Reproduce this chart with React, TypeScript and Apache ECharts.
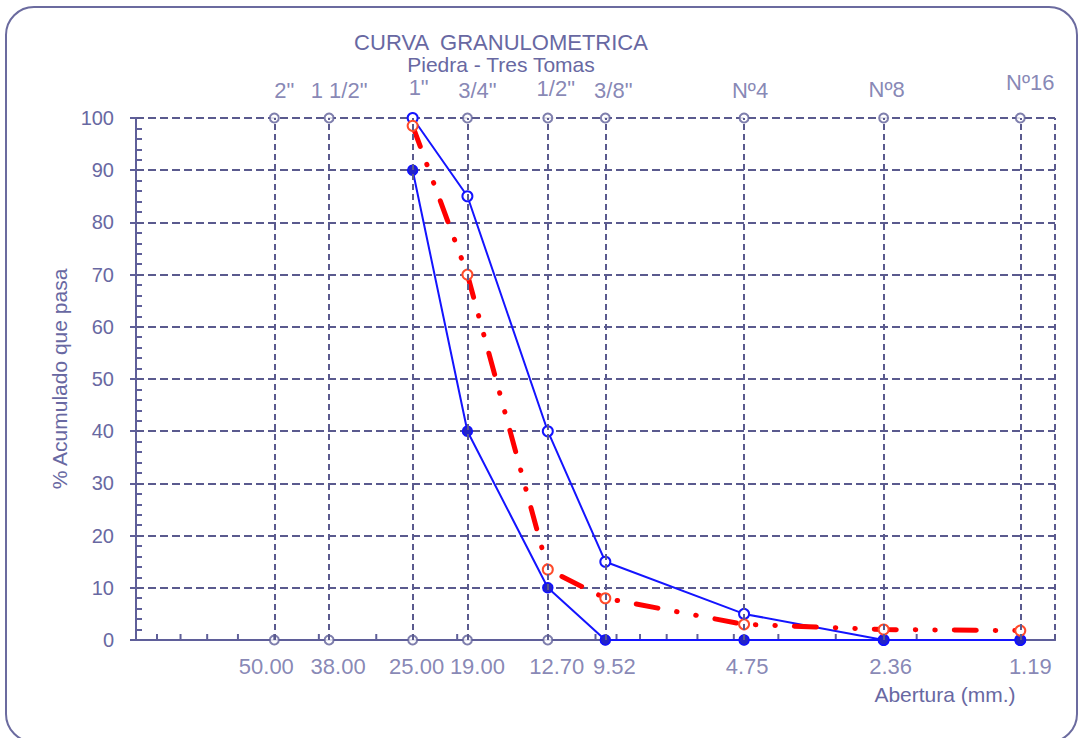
import React, { useEffect, useRef } from "react";
import * as echarts from "echarts";

// ---- data ----
const SIEVE_MM = [50, 38, 25, 19, 12.7, 9.52, 4.75, 2.36, 1.19];
const SIEVE_MM_LABELS = ["50.00", "38.00", "25.00", "19.00", "12.70", "9.52", "4.75", "2.36", "1.19"];
const SIEVE_NAMES = ['2"', '1 1/2"', '1"', '3/4"', '1/2"', '3/8"', "Nº4", "Nº8", "Nº16"];
const CURVE_MM = [25, 19, 12.7, 9.52, 4.75, 2.36, 1.19];
const UPPER_LIMIT = [100, 85, 40, 15, 5, 0, 0];
const LOWER_LIMIT = [90, 40, 10, 0, 0, 0, 0];
const SAMPLE = [98.5, 70, 13.5, 8, 3, 2, 1.8];
const X_MINOR_TICKS = [2, 3, 4, 5, 6, 7, 8, 9, 10, 20, 30, 40, 50, 60, 70, 80, 90];
const X_MIN = 1;
const X_MAX = 100;

// ---- styles ----
const FONT = "'Liberation Sans', Arial, sans-serif";
const AXIS = "#5f5f99";
const TEXT = "#6868a2";
const GRID = "#5a5a8e";
const TOP_LABEL_DX = [10, 10, 6, 10, 8, 8, 6, 3, 10];
const TOP_LABEL_RAISE = [0, 0, 3, 0, 2, 0, 0, 1, 8];
const BOTTOM_LABEL_DX = [-8, 9, 4, 10, 9, 9, 3, 7, 10];

export default function App() {
  const ref = useRef<HTMLDivElement>(null);
  useEffect(() => {
    document.body.style.margin = "0";
    const chart = echarts.init(ref.current!, null, { renderer: "svg" });
    const option: any = {
      animation: false,
      backgroundColor: "#ffffff",
      textStyle: { fontFamily: FONT },
      title: {
        text: "CURVA  GRANULOMETRICA",
        subtext: "Piedra - Tres Tomas",
        left: 496,
        textAlign: "center",
        top: 26,
        itemGap: 2,
        textStyle: { fontSize: 22, fontWeight: "normal", color: TEXT, fontFamily: FONT, lineHeight: 22 },
        subtextStyle: { fontSize: 21, color: TEXT, fontFamily: FONT, lineHeight: 19 },
      },
      grid: { left: 136, right: 23, top: 118, bottom: 98, containLabel: false },
      xAxis: [
        {
          type: "log",
          logBase: 10,
          min: X_MIN,
          max: X_MAX,
          inverse: true,
          position: "bottom",
          axisLine: { show: true, lineStyle: { color: AXIS, width: 2 } },
          axisTick: { show: false },
          axisLabel: { show: false },
          splitLine: { show: false },
        },
        {
          type: "log",
          logBase: 10,
          min: X_MIN,
          max: X_MAX,
          inverse: true,
          position: "top",
          axisLine: { show: true, lineStyle: { color: AXIS, width: 2 } },
          axisTick: { show: false },
          axisLabel: { show: false },
          splitLine: { show: false },
        },
      ],
      yAxis: [
        {
          type: "value",
          min: 0,
          max: 100,
          interval: 10,
          position: "left",
          name: "% Acumulado que pasa",
          nameLocation: "middle",
          nameGap: 66,
          nameTextStyle: { fontSize: 21, color: TEXT, fontFamily: FONT },
          axisLine: { show: true, lineStyle: { color: AXIS, width: 2 } },
          axisTick: { show: true, length: 6, lineStyle: { color: AXIS, width: 2 } },
          axisLabel: { fontSize: 20, color: TEXT, margin: 22, fontFamily: FONT },
          splitLine: { show: true, lineStyle: { color: GRID, width: 2, type: [8, 4] } },
        },
        {
          type: "value",
          min: 0,
          max: 100,
          interval: 10,
          position: "left",
          offset: 0,
          axisLine: { show: false },
          axisTick: { show: false, inside: true },
          minorTick: { show: true, splitNumber: 5, length: 6, lineStyle: { color: AXIS, width: 2 } },
          axisLabel: { show: false },
          splitLine: { show: false },
        },
      ],
      graphic: [
        {
          type: "rect",
          shape: { x: 6, y: 7, width: 1071, height: 735, r: 28 },
          style: { fill: "none", stroke: "#6b6b9f", lineWidth: 2 },
          silent: true,
        },
        {
          type: "text",
          x: 945,
          y: 694,
          style: {
            text: "Abertura (mm.)",
            fill: TEXT,
            fontSize: 21,
            fontFamily: FONT,
            textAlign: "center",
            textVerticalAlign: "middle",
          },
        },
      ],
      series: [
        {
          type: "scatter",
          name: "sieves-top",
          xAxisIndex: 0,
          yAxisIndex: 0,
          clip: false,
          z: 1,
          symbol: "emptyCircle",
          symbolSize: 9,
          itemStyle: { color: AXIS, borderWidth: 1.5 },
          data: SIEVE_MM.map((v, i) => ({
            value: [v, 100],
            label: { offset: [TOP_LABEL_DX[i], -TOP_LABEL_RAISE[i]] },
          })),
          label: {
            show: true,
            position: "top",
            distance: 12,
            fontSize: 22,
            lineHeight: 20,
            color: TEXT,
            fontFamily: FONT,
            formatter: (p: any) => SIEVE_NAMES[p.dataIndex],
          },
          markLine: {
            silent: true,
            symbol: "none",
            label: { show: false },
            lineStyle: { color: GRID, width: 2, type: [6, 4] },
            data: [...SIEVE_MM, X_MIN].map((v) => ({ xAxis: v })),
          },
        },
        {
          type: "scatter",
          name: "sieves-bottom",
          clip: false,
          z: 1,
          symbol: "emptyCircle",
          symbolSize: 9,
          itemStyle: { color: AXIS, borderWidth: 1.5 },
          data: SIEVE_MM.map((v, i) => ({ value: [v, 0], label: { offset: [BOTTOM_LABEL_DX[i], 0] } })),
          label: {
            show: true,
            position: "bottom",
            distance: 10,
            fontSize: 22,
            color: TEXT,
            fontFamily: FONT,
            formatter: (p: any) => SIEVE_MM_LABELS[p.dataIndex],
          },
        },
        {
          type: "custom",
          name: "x-minor-ticks",
          clip: false,
          z: 2,
          data: X_MINOR_TICKS.map((v) => [v, 0]),
          renderItem: (params: any, api: any) => {
            const p = api.coord([api.value(0), 0]);
            return {
              type: "line",
              shape: { x1: p[0], y1: p[1], x2: p[0], y2: p[1] - 6 },
              style: { stroke: AXIS, lineWidth: 2 },
            };
          },
        },
        {
          type: "line",
          name: "Limite superior",
          clip: false,
          z: 3,
          data: CURVE_MM.map((v, i) => [v, UPPER_LIMIT[i]]),
          symbol: "emptyCircle",
          symbolSize: 10,
          lineStyle: { color: "#1414ff", width: 2 },
          itemStyle: { color: "#1414ff", borderWidth: 2 },
        },
        {
          type: "line",
          name: "Limite inferior",
          clip: false,
          z: 3,
          data: CURVE_MM.map((v, i) => [v, LOWER_LIMIT[i]]),
          symbol: "circle",
          symbolSize: 10,
          lineStyle: { color: "#1414ff", width: 2 },
          itemStyle: { color: "#2323c8", borderColor: "#1010ff", borderWidth: 1.5 },
        },
        {
          type: "line",
          name: "Muestra",
          clip: false,
          z: 4,
          data: CURVE_MM.map((v, i) => [v, SAMPLE[i]]),
          symbol: "emptyCircle",
          symbolSize: 10,
          lineStyle: { color: "#ff0000", width: 5, type: [22, 19, 0.5, 19, 0.5, 19], cap: "round" },
          itemStyle: { color: "#ff4a2a", borderWidth: 1.5 },
        },
      ],
    };
    chart.setOption(option);
    return () => chart.dispose();
  }, []);
  return (
    <div
      ref={ref}
      style={{ position: "fixed", left: 0, top: 0, width: 1078, height: 738, background: "#fff" }}
    />
  );
}
